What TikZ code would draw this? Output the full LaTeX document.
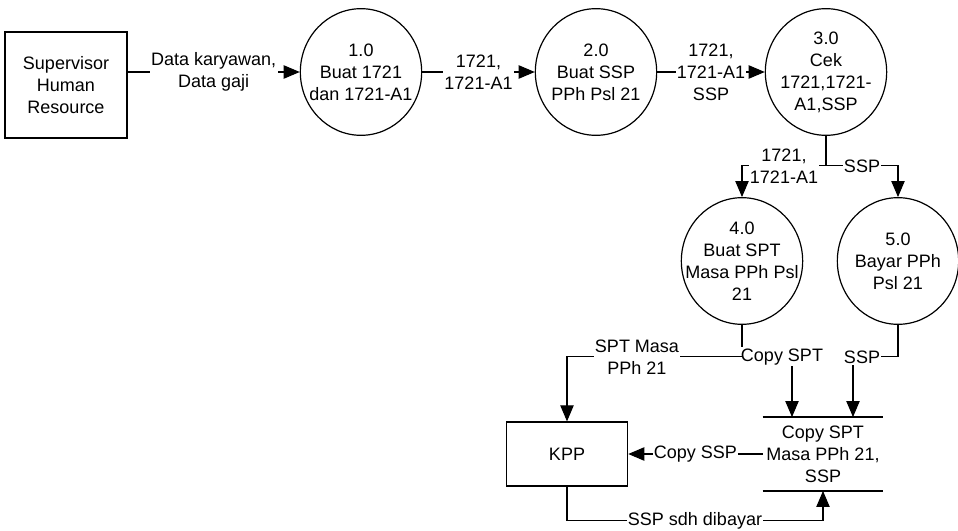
\documentclass[tikz,border=0pt]{standalone}
\usepackage{fontspec}
\setmainfont{Liberation Sans}
\usepackage{tikz}
\usetikzlibrary{shapes.geometric, arrows.meta, positioning, calc}

\begin{document}
\begin{tikzpicture}[x=0.75pt,y=-0.75pt,
  font=\fontsize{13.5}{16.5}\selectfont,
  proses/.style={ellipse,draw,line width=0.9pt,minimum width=91pt,minimum height=95pt,inner sep=-11pt,align=center},
  entitas/.style={rectangle,draw,line width=0.9pt,align=center},
  simpan/.style={minimum width=90pt,minimum height=55pt,inner sep=0pt,align=center},
  alur/.style={line width=0.8pt,-{Triangle[length=12pt,width=10pt]}},
  ket/.style={fill=white,inner sep=1pt,align=center}]

  \useasboundingbox (0,0) rectangle (958,531);

  % ---------- entitas luar ----------
  \node[entitas,minimum width=91.5pt,minimum height=79.5pt] (hr) at (66,85) {Supervisor\\Human\\Resource};
  \node[entitas,minimum width=91pt,minimum height=48pt] (kpp) at (567,454) {KPP};

  % ---------- proses ----------
  \node[proses] (p1) at (361,72) {1.0\\Buat 1721\\dan 1721-A1};
  \node[proses] (p2) at (596,72) {2.0\\Buat SSP\\PPh Psl 21};
  \node[proses] (p3) at (826,72) {3.0\\Cek\\1721,1721-\\A1,SSP};
  \node[proses] (p4) at (742,261) {4.0\\Buat SPT\\Masa PPh Psl\\21};
  \node[proses] (p5) at (898,261) {5.0\\Bayar PPh\\Psl 21};

  % ---------- simpanan data ----------
  \node[simpan] (arsip) at (823,454) {Copy SPT\\Masa PPh 21,\\SSP};
  \draw[line width=0.9pt] (arsip.north west) -- (arsip.north east);
  \draw[line width=0.9pt] (arsip.south west) -- (arsip.south east);

  % ---------- aliran data ----------
  \draw[alur] (hr.east |- p1.west) -- node[ket] {Data karyawan,\\Data gaji} (p1.west);
  \draw[alur] (p1) -- node[ket] {1721,\\1721-A1} (p2);
  \draw[alur] (p2) -- node[ket] {1721,\\1721-A1\\SSP} (p3);

  \coordinate (c3) at ($(p3.south)+(0,30)$);
  \draw[line width=0.8pt] (p3.south) -- (c3);
  \draw[alur] (c3) -| node[ket,pos=0.25] {1721,\\1721-A1} (p4.north);
  \draw[alur] (c3) -| node[ket,pos=0.25] {SSP} (p5.north);

  \coordinate (c4) at ($(p4.south)+(0,32)$);
  \coordinate (s1) at ($(arsip.north)+(-31,0)$);
  \draw[line width=0.8pt] (p4.south) -- (c4);
  \draw[alur] (c4) -- node[ket,pos=0.8] {Copy SPT} (c4 -| s1) -- (s1);
  \draw[alur] (c4) -| node[ket,pos=0.3] {SPT Masa\\PPh 21} (kpp.north);

  \coordinate (c5) at ($(p5.south)+(0,32)$);
  \coordinate (s2) at ($(arsip.north)+(30,0)$);
  \draw[alur] (p5.south) -- (c5) -- node[ket,pos=0.8] {SSP} (c5 -| s2) -- (s2);

  \draw[alur] (arsip.west) -- node[ket] {Copy SSP} (kpp.east);
  \draw[alur] (kpp.south) -- ++(0,34) -| node[ket,pos=0.25] {SSP sdh dibayar} (arsip.south);
\end{tikzpicture}
\end{document}
